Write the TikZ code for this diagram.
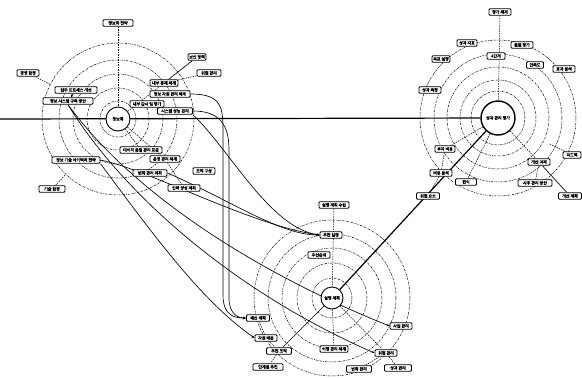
\documentclass[tikz,border=0pt]{standalone}
\usepackage{fontspec}
\newfontfamily\krfont[FakeBold=2]{Noto Sans CJK KR}
\usepackage{tikz}
\usetikzlibrary{arrows.meta, backgrounds}

\begin{document}
\begin{tikzpicture}[
    x=1pt, y=-1pt,
    box/.style={rectangle, draw, fill=white, line width=0.9pt, rounded corners=1pt,
               inner sep=0.8pt, minimum height=6.5pt,
               font=\krfont\fontsize{4}{4.5}\selectfont},
    hub/.style={circle, draw, fill=white, line width=0.9pt, inner sep=0pt,
               font=\krfont\fontsize{4}{4.5}\selectfont},
    ring/.style={dash pattern=on 2pt off 1pt on 0.6pt off 1pt, line width=0.5pt},
    spoke/.style={dash pattern=on 1.5pt off 1pt, line width=0.5pt},
    link/.style={line width=0.65pt},
    tip/.style={-{Stealth[length=3pt, width=2.5pt]}},
    mainline/.style={line width=1.2pt}
]
\useasboundingbox (0,0) rectangle (582,378);

% left cluster
\node[hub, minimum size=24pt] at (118,119) (lhub) {정보화};
\node[box, minimum width=30pt] at (118,23) (ltop) {정보화 전략};
\node[box, minimum width=22pt] at (28,73) (l1) {경영 환경};
\node[box, minimum width=42pt] at (76,90) (l2) {업무 프로세스 개선};
\node[box, minimum width=50pt] at (68,101) (l3) {정보 시스템 구축 방안};
\node[box, minimum width=18pt] at (197,57) (l4) {보안 정책};
\node[box, minimum width=24pt] at (209,73) (l5) {위험 관리};
\node[box, minimum width=28pt] at (164,83) (l6) {내부 통제 체계};
\node[box, minimum width=40pt] at (170,94) (l7) {정보 자원 관리 체계};
\node[box, minimum width=34pt] at (147,104) (l8) {내부 감사 및 평가};
\node[box, minimum width=35pt] at (175,111) (l9) {시스템 성능 관리};
\node[box, minimum width=42pt] at (141,150) (l10) {데이터 품질 관리 표준};
\node[box, minimum width=30pt] at (165,159) (l11) {운영 관리 체계};
\node[box, minimum width=34pt] at (150,173) (l12) {변화 관리 계획};
\node[box, minimum width=22pt] at (204,171) (l13) {조직 구성};
\node[box, minimum width=32pt] at (184,188) (l14) {인력 양성 계획};
\node[box, minimum width=48pt] at (76,160) (l15) {정보 기술 아키텍처 전략};
\node[box, minimum width=26pt] at (52,189) (l16) {기술 환경};

% right cluster
\node[hub, minimum size=34pt, line width=1.4pt] at (498,118) (rhub) {성과 관리 평가};
\node[box, minimum width=22pt] at (500,12) (rtop) {평가 체계};
\node[box, minimum width=18pt] at (496,56) (r1) {4단계};
\node[box, minimum width=20pt] at (467,43) (r2) {성과 지표};
\node[box, minimum width=18pt] at (441,59) (r3) {목표 설정};
\node[box, minimum width=22pt] at (430,90) (r4) {성과 측정};
\node[box, minimum width=22pt] at (522,45) (r5) {품질 평가};
\node[box, minimum width=17pt] at (535,65) (r6) {만족도};
\node[box, minimum width=22pt] at (564,69) (r7) {효과 분석};
\node[box, minimum width=20pt] at (445,149) (r8) {투자 비용};
\node[box, minimum width=22pt] at (441,173) (r9) {비용 분석};
\node[box, minimum width=21pt] at (466,182) (r10) {편익};
\node[box, minimum width=23pt] at (428,196) (r11) {위험 요소};
\node[box, minimum width=22pt] at (539,162) (r12) {개선 과제};
\node[box, minimum width=34pt] at (535,183) (r13) {사후 관리 방안};
\node[box, minimum width=18pt] at (572,155) (r14) {피드백};
\node[box, minimum width=23pt] at (570,196) (r15) {개선 계획};

% bottom cluster
\node[hub, minimum size=22pt] at (332,298) (bhub) {실행 계획};
\node[box, minimum width=30pt] at (334,205) (btop) {실행 계획 수립};
\node[box, minimum width=22pt] at (331,235) (b1) {추진 일정};
\node[box, minimum width=22pt] at (319,255) (b2) {우선순위};
\node[box, minimum width=23pt] at (258,318) (b3) {예산 계획};
\node[box, minimum width=22pt] at (266,338) (b4) {자원 배분};
\node[box, minimum width=25pt] at (279,351) (b5) {추진 조직};
\node[box, minimum width=30pt] at (268,367) (b6) {단계별 추진};
\node[box, minimum width=28pt] at (334,349) (b7) {이행 관리 체계};
\node[box, minimum width=22pt] at (401,326) (b8) {사업 관리};
\node[box, minimum width=22pt] at (386,353) (b9) {위험 관리};
\node[box, minimum width=25pt] at (359,369) (b10) {변화 관리};
\node[box, minimum width=27pt] at (398,368) (b11) {성과 관리};

\coordinate (lineend) at (0,119);

\begin{scope}[on background layer]
% rings
\draw[ring] (lhub.center) circle (18pt) circle (31pt) circle (45pt) circle (59pt) circle (76pt);
\draw[ring] (rhub.center) circle (27pt) circle (38pt) circle (51pt) circle (64pt) circle (78pt);
\draw[ring] (bhub.center) circle (20pt) circle (35pt) circle (50pt) circle (64pt) circle (78pt);

% main axes
\draw[mainline] (lineend) -- (rhub);
\draw[mainline] (bhub) -- (rhub);

% spokes, left
\draw[spoke] (ltop) -- (lhub);
\draw[spoke, shorten >=64pt] (l1) -- (lhub);
\draw[spoke, shorten >=64pt] (l16) -- (lhub);
\draw[spoke] (lhub) -- (l6);
\draw[spoke] (lhub) -- (l10);
\draw[spoke] (lhub) -- (l11);
\draw[spoke] (l5) -- (l6);
\draw[spoke] (l11) -- (l14);
\draw[link] (l4) -- (l6);
\draw[link, tip] (l2) -- (l3);

% spokes, right
\draw[spoke] (rtop) -- (rhub);
\draw[spoke] (rhub) -- (r8);
\draw[spoke] (r8) -- (r9);
\draw[spoke] (r9) -- (r11);
\draw[spoke] (rhub) -- (r10);
\draw[spoke] (rhub) -- (r12);
\draw[spoke] (r12) -- (r13);
\draw[spoke, shorten >=40pt] (r14) -- (rhub);
\draw[link] (r12) -- (r15);

% spokes, bottom
\draw[spoke] (btop) -- (bhub);
\draw[spoke] (b3) -- (b4);
\draw[spoke] (b4) -- (b5);
\draw[spoke] (b5) -- (b6);
\draw[spoke] (bhub) -- (b7);
\draw[spoke] (bhub) -- (b9);
\draw[spoke] (b9) -- (b10);
\draw[spoke] (b9) -- (b11);
\draw[link] (bhub) -- (b5);

% links between clusters
\draw[link, tip] (l7.east) .. controls (225,94) and (223,110) .. (223,140) -- (223,295)
    .. controls (223,316) and (235,318) .. (b3.west);
\draw[link, tip] (l9.east) .. controls (220,111) and (229,125) .. (229,150) -- (229,298)
    .. controls (229,314) and (238,318) .. (b3.west);
\draw[link, tip] (l9.south east) .. controls (230,150) and (270,228) .. (b1.west);
\draw[link, tip] (l12.east) .. controls (230,200) and (280,235) .. (b1.west);
\draw[link, tip] (l15.east) .. controls (150,170) and (250,225) .. (b1.west);
\draw[link, tip] (l3.south) .. controls (130,190) and (250,270) .. (b8.west);
\draw[link, tip] (l3.south) .. controls (120,190) and (230,290) .. (b9.west);
\draw[link, tip] (l15.south east) .. controls (150,230) and (200,300) .. (b4.west);
\end{scope}

\end{tikzpicture}
\end{document}
